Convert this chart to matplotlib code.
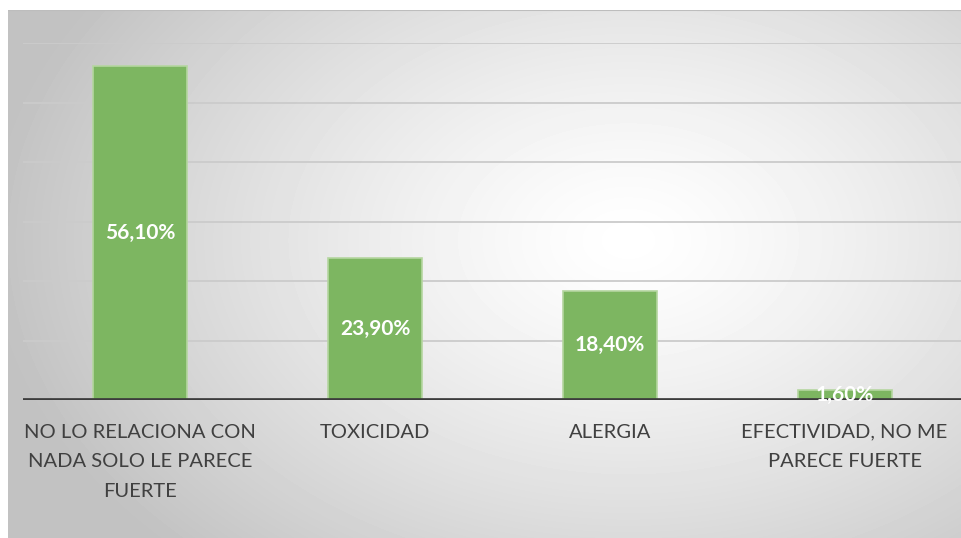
import numpy as np
import matplotlib.pyplot as plt

categories = [
    "NO LO RELACIONA CON\nNADA SOLO LE PARECE\nFUERTE",
    "TOXICIDAD",
    "ALERGIA",
    "EFECTIVIDAD, NO ME\nPARECE FUERTE",
]
values = [56.10, 23.90, 18.40, 1.60]
value_labels = ["56,10%", "23,90%", "18,40%", "1,60%"]

plt.rcParams["font.family"] = ["Lato", "DejaVu Sans"]

W, H = 962, 538
fig = plt.figure(figsize=(W / 100, H / 100), dpi=100)
fig.patch.set_facecolor("white")

# Radial gradient background (chart area)
bg = fig.add_axes([8 / W, 0, (W - 8) / W, (H - 10) / H])
bg.set_axis_off()
yy, xx = np.mgrid[0:528, 0:954]
cx, cy = 620, 230
d = np.sqrt(((xx - cx) / 640.0) ** 2 + ((yy - cy) / 440.0) ** 2)
d = np.clip(d, 0, 1)
shade = 1.0 - 0.24 * d ** 1.3
bg.imshow(shade, cmap="gray", vmin=0, vmax=1, aspect="auto",
          extent=[0, 1, 0, 1], interpolation="bilinear")
bg.axhline(1, color="#bdbdbd", lw=1.5)

# Main plot area
ax = fig.add_axes([23 / W, (H - 400) / H, (W - 23) / W, (400 - 43) / H])
ax.set_facecolor("none")
x = np.arange(len(categories))
bars = ax.bar(x, values, width=0.4, color="#7db661", edgecolor="#b5d6a0",
              linewidth=1.2, zorder=3)
ax.set_xlim(-0.5, len(categories) - 0.5)
ax.set_ylim(0, 60)
ax.set_yticks(np.arange(0, 61, 10))
ax.yaxis.grid(True, color="#cbcbcb", lw=1.3, zorder=0)
ax.tick_params(axis="y", left=False, labelleft=False)
ax.axhline(0, color="#3c3c3c", lw=3.4, zorder=4)
for s in ax.spines.values():
    s.set_visible(False)

# Category labels (drawn as annotations so line spacing is controllable)
ax.set_xticks([])
for xi, cat in zip(x, categories):
    ax.annotate(cat, (xi, 0), xytext=(0, -17), textcoords="offset points",
                ha="center", va="top", fontsize=14.5, color="#404040",
                linespacing=1.9, annotation_clip=False)

for b, lab in zip(bars, value_labels):
    ax.text(b.get_x() + b.get_width() / 2, b.get_height() / 2, lab,
            ha="center", va="center", color="white", fontsize=15,
            fontweight="bold", zorder=5)

fig.savefig("out.png", dpi=100)
